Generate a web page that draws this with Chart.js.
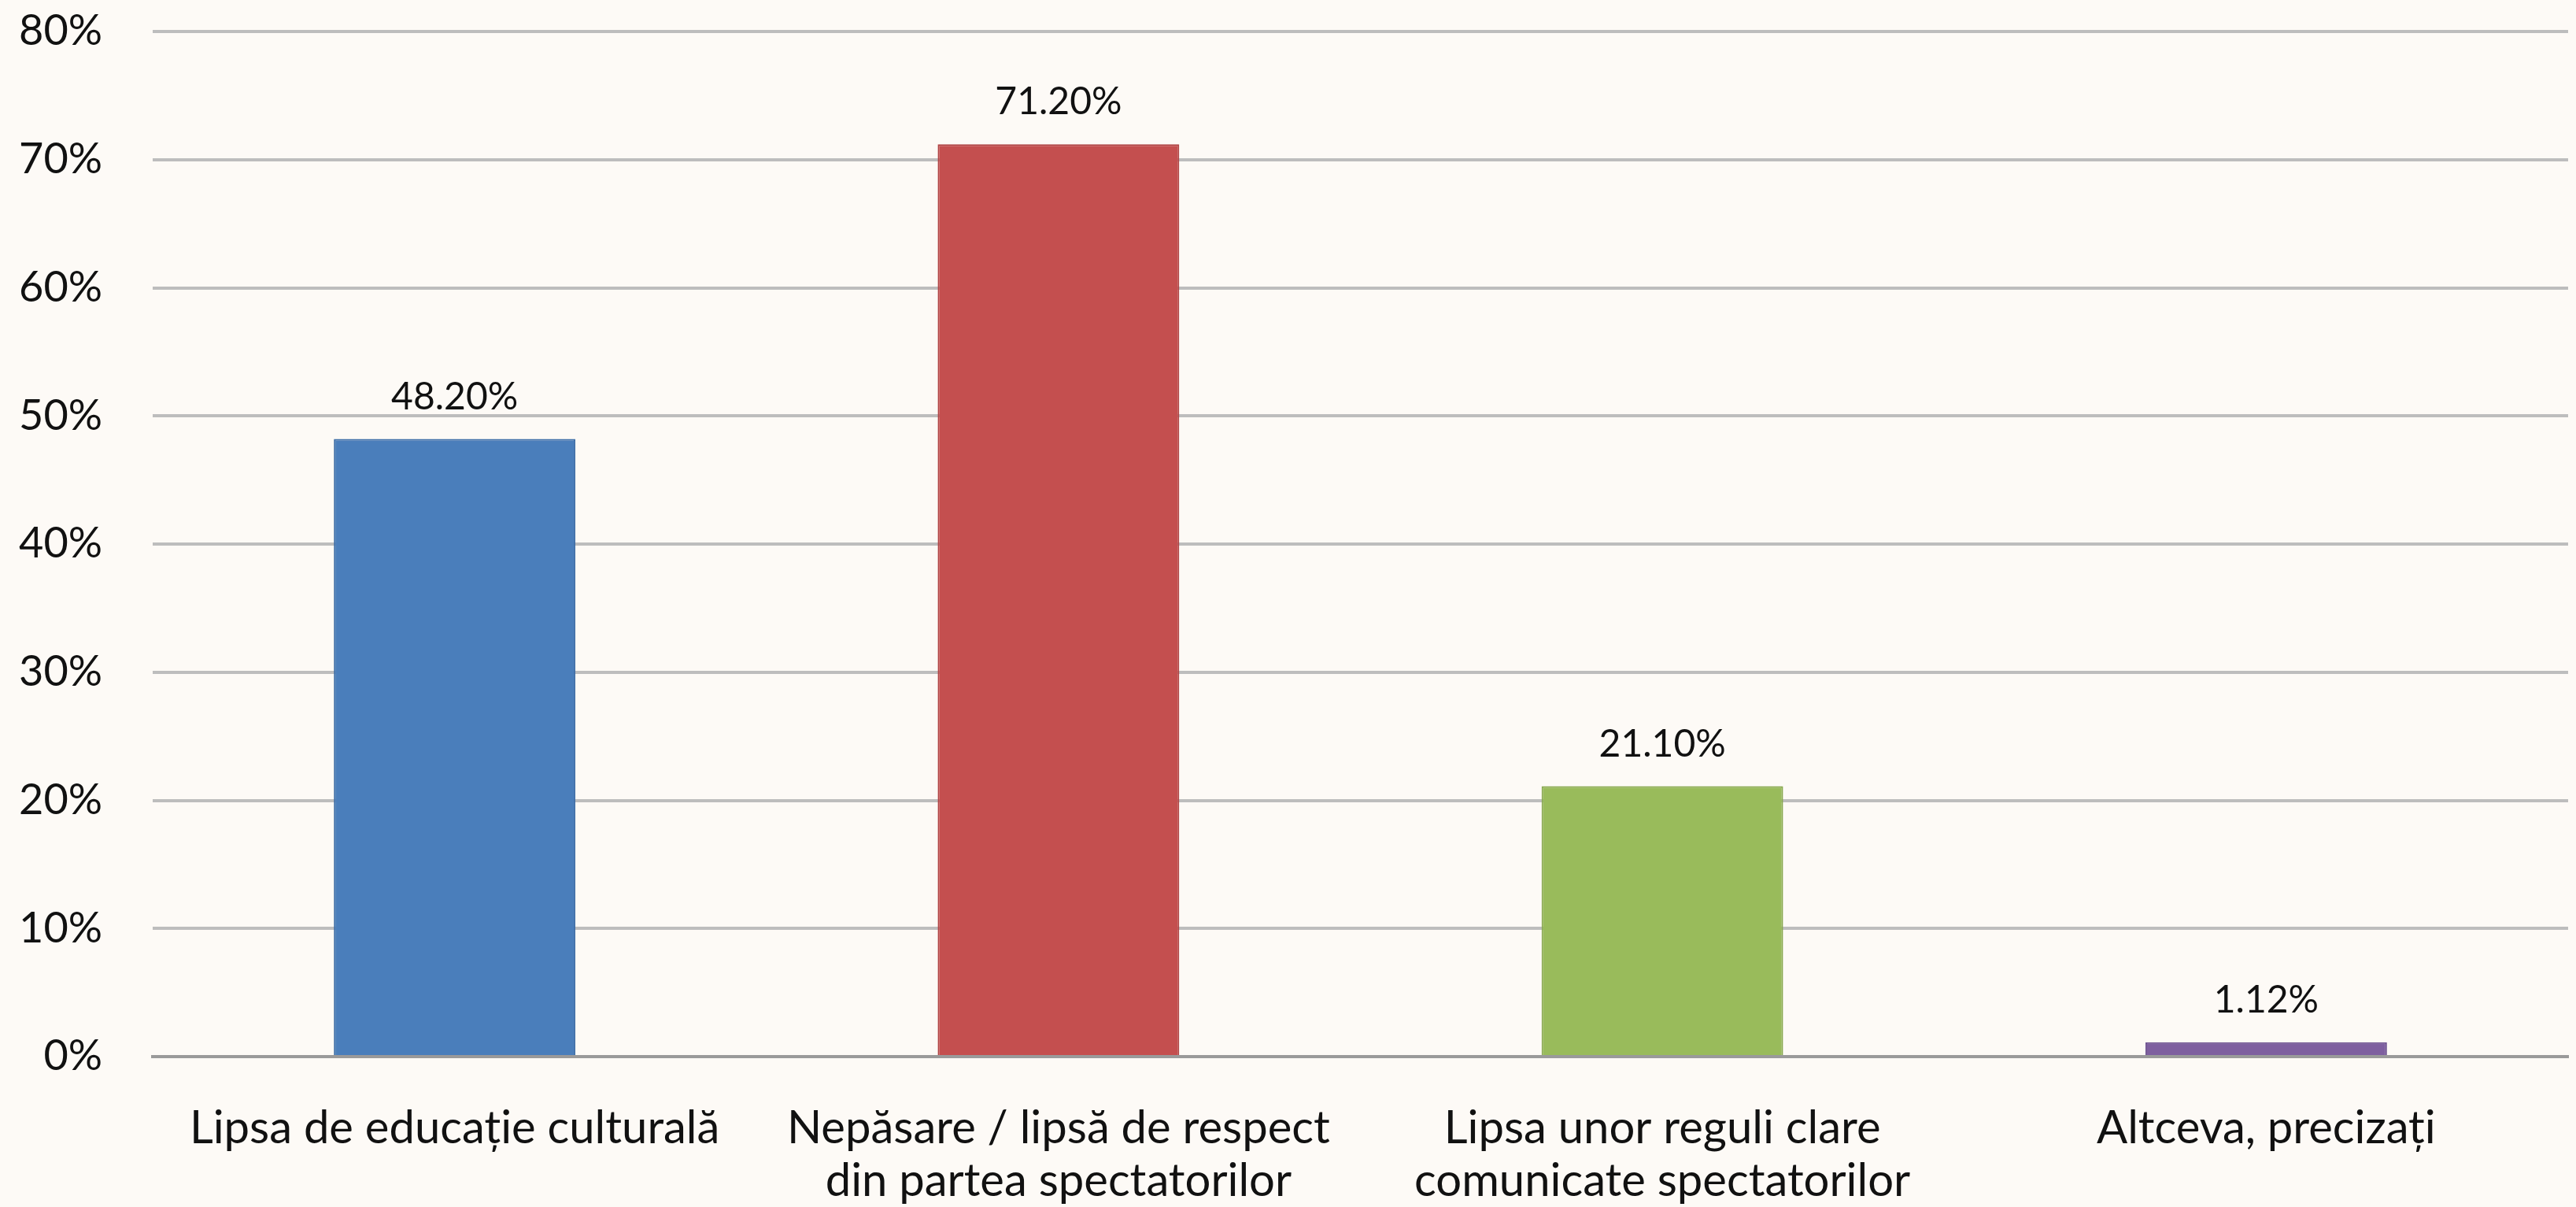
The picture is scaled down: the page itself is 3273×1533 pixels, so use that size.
<!DOCTYPE html>
<html>
<head>
<meta charset="utf-8">
<script src="https://cdn.jsdelivr.net/npm/chart.js@4"></script>
<style>
  html, body { margin: 0; padding: 0; background: #fdfaf6; }
  #wrap { width: 3273px; height: 1533px; }
</style>
</head>
<body>
<div id="wrap"><canvas id="chart"></canvas></div>
<script>
const categories = [
    ["Lipsa de educație culturală"],
    ["Nepăsare / lipsă de respect", "din partea spectatorilor"],
    ["Lipsa unor reguli clare", "comunicate spectatorilor"],
    ["Altceva, precizați"]
];
const values = [48.2, 71.2, 21.1, 1.12];
const valueLabels = ["48.20%", "71.20%", "21.10%", "1.12%"];
const barColors = ["#4a7ebb", "#c44f4f", "#99bb5b", "#7e5f9f"];
const barEdges = ["#3f6fa8", "#b04444", "#88a84f", "#6e5290"];

// value labels above each bar
const barLabels = {
    id: 'barLabels',
    afterDatasetsDraw(chart) {
        const ctx = chart.ctx;
        const meta = chart.getDatasetMeta(0);
        ctx.save();
        ctx.font = '48px Lato';
        ctx.fillStyle = '#111';
        ctx.textAlign = 'center';
        ctx.textBaseline = 'alphabetic';
        meta.data.forEach((bar, i) => {
            ctx.fillText(valueLabels[i], bar.x, bar.y - 38);
        });
        ctx.restore();
    }
};

new Chart(document.getElementById('chart'), {
    type: 'bar',
    data: {
        labels: categories,
        datasets: [{
            data: values,
            backgroundColor: barColors,
            borderColor: barEdges,
            borderWidth: 2,
            barPercentage: 0.40,
            categoryPercentage: 1.0
        }]
    },
    plugins: [barLabels],
    options: {
        responsive: true,
        maintainAspectRatio: false,
        animation: false,
        layout: { padding: { top: 40, right: 10, left: 0, bottom: 0 } },
        plugins: {
            legend: { display: false },
            tooltip: { enabled: false }
        },
        scales: {
            y: {
                min: 0,
                max: 80,
                afterFit(scale) {
                    scale.width = 194;
                    scale.paddingTop = 0;
                    scale.paddingBottom = 0;
                },
                border: { display: false },
                grid: { color: '#bdbdbd', lineWidth: 4, drawTicks: false },
                ticks: {
                    stepSize: 10,
                    padding: 64,
                    color: '#111',
                    font: { family: 'Lato', size: 54 },
                    callback: v => v + '%'
                }
            },
            x: {
                afterFit(scale) {
                    scale.height = 191;
                    scale.paddingLeft = 0;
                    scale.paddingRight = 0;
                },
                border: { color: '#9a9a9a', width: 4 },
                grid: { display: false, drawTicks: false },
                ticks: {
                    padding: 58,
                    color: '#111',
                    maxRotation: 0,
                    autoSkip: false,
                    font: { family: 'Lato', size: 58, lineHeight: 1.15 }
                }
            }
        }
    }
});
</script>
</body>
</html>
